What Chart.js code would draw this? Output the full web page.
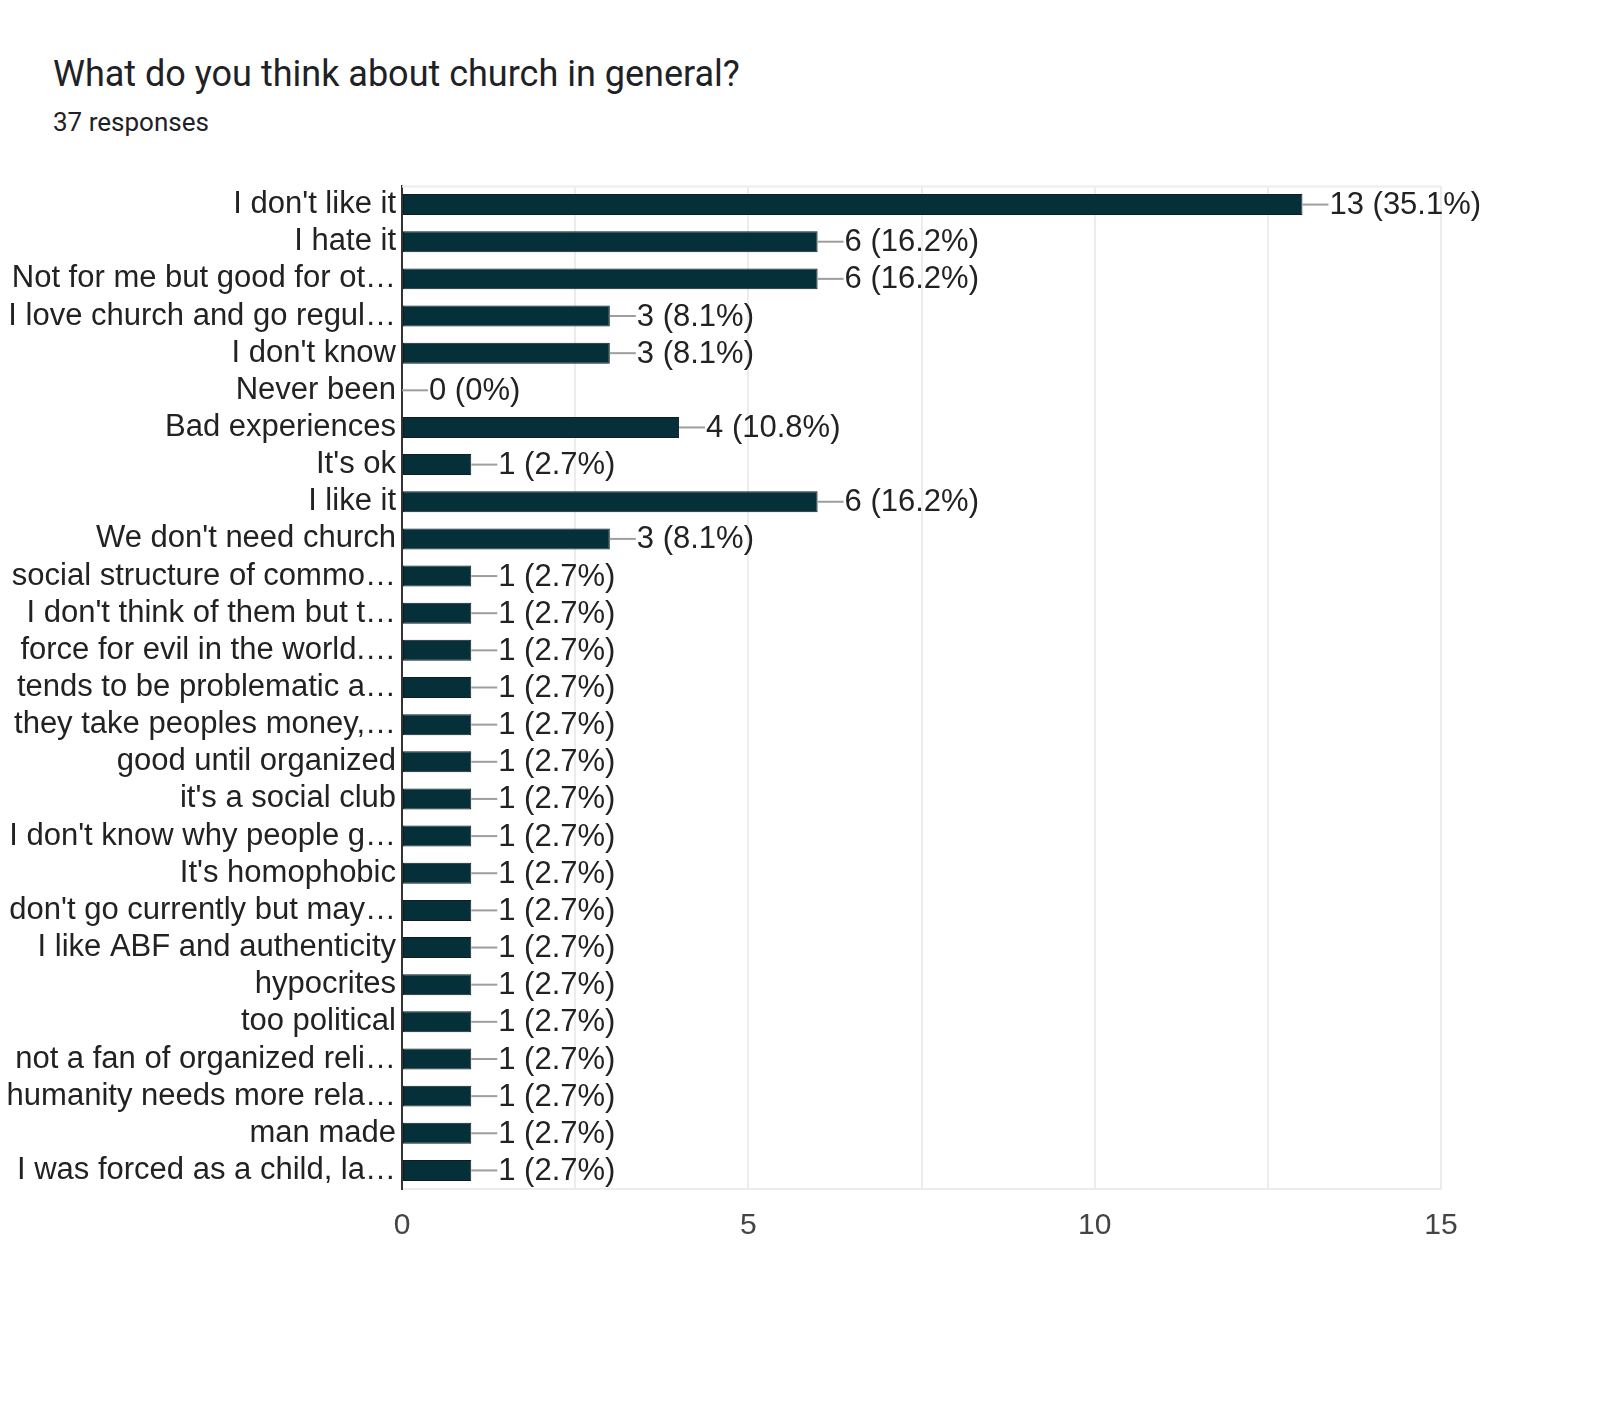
<!DOCTYPE html>
<html>
<head>
<meta charset="utf-8">
<script src="https://cdn.jsdelivr.net/npm/chart.js@4/dist/chart.umd.min.js"></script>
<style>
  html, body { margin: 0; padding: 0; background: #fff; }
  #wrap { position: relative; width: 1600px; height: 1418px; }
  #title { position: absolute; left: 53px; top: 53px; font-family: Roboto, "Open Sans", sans-serif; font-size: 36px; color: #202124; white-space: nowrap; }
  #sub { position: absolute; left: 53px; top: 107px; font-family: Roboto, "Open Sans", sans-serif; font-size: 26px; color: #202124; white-space: nowrap; }
  #c { position: absolute; left: 0; top: 0; }
</style>
</head>
<body>
<div id="wrap">
  <div id="title">What do you think about church in general?</div>
  <div id="sub">37 responses</div>
  <canvas id="c" width="1600" height="1418"></canvas>
</div>
<script>
const totalResponses = 37;
const categories = [
  "I don't like it",
  "I hate it",
  "Not for me but good for ot\u2026",
  "I love church and go regul\u2026",
  "I don't know",
  "Never been",
  "Bad experiences",
  "It's ok",
  "I like it",
  "We don't need church",
  "social structure of commo\u2026",
  "I don't think of them but t\u2026",
  "force for evil in the world.\u2026",
  "tends to be problematic a\u2026",
  "they take peoples money,\u2026",
  "good until organized",
  "it's a social club",
  "I don't know why people g\u2026",
  "It's homophobic",
  "don't go currently but may\u2026",
  "I like ABF and authenticity",
  "hypocrites",
  "too political",
  "not a fan of organized reli\u2026",
  "humanity needs more rela\u2026",
  "man made",
  "I was forced as a child, la\u2026"
];
const counts = [13, 6, 6, 3, 3, 0, 4, 1, 6, 3, 1, 1, 1, 1, 1, 1, 1, 1, 1, 1, 1, 1, 1, 1, 1, 1, 1];
const xTickValues = [0, 5, 10, 15];

function pctLabel(v) {
  if (v === 0) return "0 (0%)";
  return v + " (" + (v / totalResponses * 100).toFixed(1) + "%)";
}

const FONT = '"Liberation Sans", Arial, sans-serif';

const frameLines = {
  id: 'frameLines',
  beforeDatasetsDraw(chart) {
    const { ctx, chartArea: a } = chart;
    ctx.save();
    ctx.strokeStyle = '#ececec';
    ctx.lineWidth = 2;
    ctx.beginPath();
    ctx.moveTo(a.left, a.top + 0.5);
    ctx.lineTo(a.right, a.top + 0.5);
    ctx.stroke();
    ctx.restore();
  }
};

const valueLabels = {
  id: 'valueLabels',
  afterDatasetsDraw(chart) {
    const { ctx } = chart;
    const meta = chart.getDatasetMeta(0);
    ctx.save();
    ctx.font = '31px ' + FONT;
    ctx.textBaseline = 'middle';
    ctx.textAlign = 'left';
    meta.data.forEach((bar, i) => {
      const v = counts[i];
      const x = bar.x;
      const y = bar.y;
      ctx.strokeStyle = '#9e9e9e';
      ctx.lineWidth = 2;
      ctx.beginPath();
      ctx.moveTo(x, y);
      ctx.lineTo(x + 26, y);
      ctx.stroke();
      ctx.fillStyle = '#222';
      ctx.fillText(pctLabel(v), x + 27, y + 1);
    });
    ctx.restore();
  }
};

new Chart(document.getElementById('c'), {
  type: 'bar',
  data: {
    labels: categories,
    datasets: [{
      data: counts,
      backgroundColor: '#05303a',
      borderColor: '#111d21',
      borderWidth: 1,
      borderSkipped: false,
      categoryPercentage: 1,
      barPercentage: 0.565
    }]
  },
  options: {
    indexAxis: 'y',
    responsive: false,
    animation: false,
    devicePixelRatio: 1,
    layout: { padding: { left: 0, right: 159, top: 186, bottom: 169 } },
    plugins: { legend: { display: false }, tooltip: { enabled: false }, title: { display: false } },
    scales: {
      x: {
        min: 0, max: 15,
        afterFit(s) { s.height = 60; },
        afterBuildTicks(s) {
          s.ticks = [0, 2.5, 5, 7.5, 10, 12.5, 15].map(v => ({ value: v }));
        },
        grid: { color: '#ececec', lineWidth: 2, drawTicks: false },
        border: { display: true, color: '#ececec', width: 2 },
        ticks: {
          padding: 19,
          color: '#444',
          font: { family: FONT, size: 30 },
          callback: (v) => xTickValues.includes(v) ? String(v) : ''
        }
      },
      y: {
        afterFit(s) { s.width = 402; },
        grid: { display: false, drawTicks: false },
        border: { display: true, color: '#333', width: 2 },
        ticks: {
          padding: 6,
          color: '#222',
          autoSkip: false,
          font: { family: FONT, size: 31 }
        }
      }
    }
  },
  plugins: [frameLines, valueLabels]
});
</script>
</body>
</html>
